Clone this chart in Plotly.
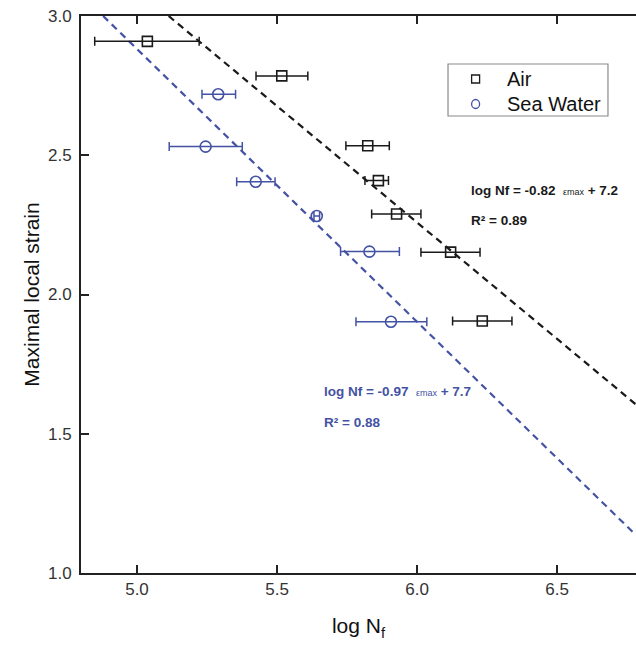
import plotly.graph_objects as go

# Air (squares)
air_x = [5.037, 5.517, 5.824, 5.862, 5.927, 6.120, 6.233]
air_y = [2.909, 2.785, 2.534, 2.409, 2.289, 2.152, 1.905]
air_xlo = [4.849, 5.425, 5.746, 5.814, 5.838, 6.014, 6.127]
air_xhi = [5.222, 5.610, 5.901, 5.898, 6.014, 6.225, 6.339]

# Sea water (circles)
sea_x = [5.290, 5.245, 5.424, 5.642, 5.830, 5.907]
sea_y = [2.719, 2.531, 2.405, 2.282, 2.154, 1.902]
sea_xlo = [5.232, 5.115, 5.356, 5.632, 5.727, 5.782]
sea_xhi = [5.352, 5.376, 5.493, 5.652, 5.937, 6.035]

# Fit lines (endpoints)
air_fit_x = [5.113, 6.782]
air_fit_y = [3.0, 1.605]
sea_fit_x = [4.879, 6.782]
sea_fit_y = [3.0, 1.136]

x_ticks = [5.0, 5.5, 6.0, 6.5]
y_ticks = [1.0, 1.5, 2.0, 2.5, 3.0]

series_names = ["Air", "Sea Water"]

BLUE = "#4452a3"
BLACK = "#1a1a1a"
FONT = "Liberation Sans, Arial, sans-serif"

fig = go.Figure()

fig.add_trace(go.Scatter(x=air_fit_x, y=air_fit_y, mode="lines",
                         line=dict(color=BLACK, width=2.2, dash="7px,5px"),
                         showlegend=False, hoverinfo="skip"))
fig.add_trace(go.Scatter(x=sea_fit_x, y=sea_fit_y, mode="lines",
                         line=dict(color=BLUE, width=2.2, dash="7px,5px"),
                         showlegend=False, hoverinfo="skip"))

fig.add_trace(go.Scatter(
    x=air_x, y=air_y, mode="markers", name=series_names[0], showlegend=False,
    marker=dict(symbol="square-open", size=10, color=BLACK, line=dict(width=1.6)),
    error_x=dict(type="data", symmetric=False,
                 array=[h - x for h, x in zip(air_xhi, air_x)],
                 arrayminus=[x - l for l, x in zip(air_xlo, air_x)],
                 color=BLACK, thickness=1.5, width=4.5)))

fig.add_trace(go.Scatter(
    x=sea_x, y=sea_y, mode="markers", name=series_names[1], showlegend=False,
    marker=dict(symbol="circle-open", size=11, color=BLUE, line=dict(width=1.6)),
    error_x=dict(type="data", symmetric=False,
                 array=[h - x for h, x in zip(sea_xhi, sea_x)],
                 arrayminus=[x - l for l, x in zip(sea_xlo, sea_x)],
                 color=BLUE, thickness=1.5, width=4.5)))

# ---- legend box (drawn manually for exact spacing) ----
fig.add_shape(type="rect", xref="paper", yref="paper", x0=0.6613, x1=0.9495, y0=0.8205, y1=0.9138,
              line=dict(color="#8a8a8a", width=1.2), fillcolor="white", layer="above")
fig.add_shape(type="rect", xref="paper", yref="paper", xsizemode="pixel", ysizemode="pixel",
              xanchor=0.7110, yanchor=0.8869, x0=-4, x1=4, y0=-4, y1=4,
              line=dict(color=BLACK, width=1.3), layer="above")
fig.add_shape(type="circle", xref="paper", yref="paper", xsizemode="pixel", ysizemode="pixel",
              xanchor=0.7110, yanchor=0.8420, x0=-4, x1=4, y0=-4.5, y1=4.5,
              line=dict(color=BLUE, width=1.3), layer="above")
fig.add_annotation(xref="paper", yref="paper", x=0.7640, y=0.8869, xanchor="left", yanchor="middle",
                   showarrow=False, text=series_names[0], font=dict(family=FONT, size=20, color="#111"))
fig.add_annotation(xref="paper", yref="paper", x=0.7640, y=0.8420, xanchor="left", yanchor="middle",
                   showarrow=False, text=series_names[1], font=dict(family=FONT, size=20, color="#111"))

ann_font = dict(family=FONT, size=13.5)
fig.add_annotation(x=6.186, y=2.375, xanchor="left", yanchor="middle", showarrow=False,
                   text="<b>log Nf = -0.82</b>  <span style='font-size:9px'>εmax</span> <b>+ 7.2</b>",
                   font=dict(color=BLACK, **ann_font))
fig.add_annotation(x=6.186, y=2.267, xanchor="left", yanchor="middle", showarrow=False,
                   text="<b>R² = 0.89</b>", font=dict(color=BLACK, **ann_font))
fig.add_annotation(x=5.661, y=1.650, xanchor="left", yanchor="middle", showarrow=False,
                   text="<b>log Nf = -0.97</b>  <span style='font-size:9px'>εmax</span> <b>+ 7.7</b>",
                   font=dict(color=BLUE, **ann_font))
fig.add_annotation(x=5.661, y=1.542, xanchor="left", yanchor="middle", showarrow=False,
                   text="<b>R² = 0.88</b>", font=dict(color=BLUE, **ann_font))

fig.update_layout(
    width=636, height=647,
    margin=dict(l=81, r=0, t=16, b=74, autoexpand=False),
    paper_bgcolor="white", plot_bgcolor="white",
    showlegend=False,
    font=dict(family=FONT, color="#222"),
    xaxis=dict(range=[4.8, 6.782], tickvals=x_ticks, ticktext=[f"{v:.1f}" for v in x_ticks],
               ticks="inside", ticklen=8, tickwidth=1.5, tickcolor="#222",
               showline=True, linecolor="#222", linewidth=2, mirror="ticks",
               showgrid=False, zeroline=False, automargin=False,
               tickfont=dict(size=17, color="#333"),
               title=dict(text="log N<sub>f</sub>", font=dict(size=21, color="#111"), standoff=20)),
    yaxis=dict(range=[1.0, 3.0], tickvals=y_ticks, ticktext=[f"{v:.1f}" for v in y_ticks],
               ticks="inside", ticklen=8, tickwidth=1.5, tickcolor="#222",
               showline=True, linecolor="#222", linewidth=2, mirror=False,
               showgrid=False, zeroline=False, automargin=False,
               tickfont=dict(size=17, color="#333"), ticklabelstandoff=4,
               title=dict(text="Maximal local strain", font=dict(size=21, color="#111"), standoff=3)),
)

fig.write_html("out.html", config={"displayModeBar": False})

# remove default page margins so the figure sits at the window origin
with open("out.html", "r", encoding="utf-8") as f:
    html = f.read()
html = html.replace("<head>", "<head><style>html,body{margin:0;padding:0;overflow:hidden;}</style>", 1)
with open("out.html", "w", encoding="utf-8") as f:
    f.write(html)
